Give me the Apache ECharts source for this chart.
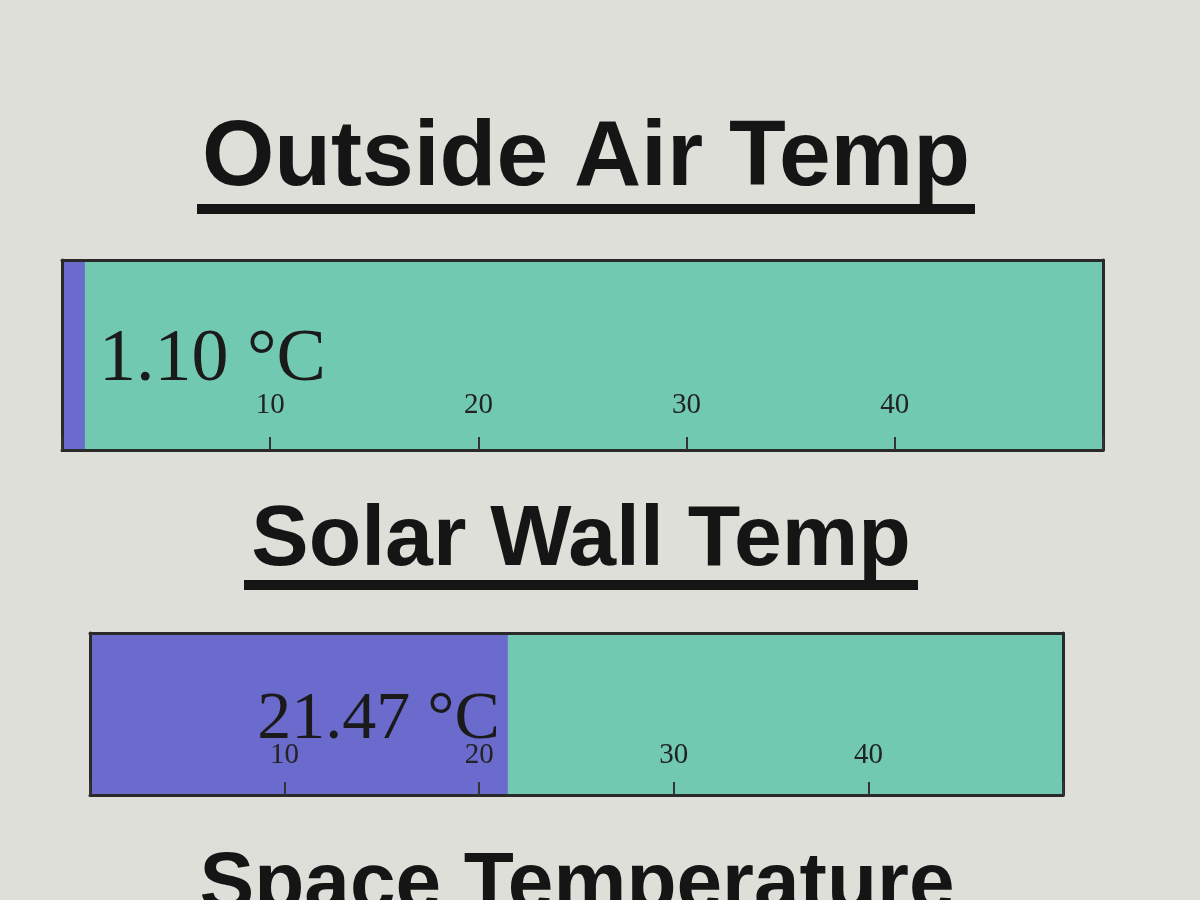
<!DOCTYPE html>
<html>
<head>
<meta charset="utf-8">
<script src="https://cdn.jsdelivr.net/npm/echarts@6/dist/echarts.min.js"></script>
<style>
html,body{margin:0;padding:0;background:#dfdfd9;}
#chart{width:1200px;height:900px;}
</style>
</head>
<body>
<div id="chart"></div>
<script>
// ---- data ----
var gaugeTitles = ['Outside Air Temp', 'Solar Wall Temp', 'Space Temperature'];
var gaugeValues = [1.10, 21.47];
var gaugeUnit = '°C';
var scaleMin = 0;
var scaleMax = 50;
var scaleStep = 10;
var tickLabels = [10, 20, 30, 40];

// ---- layout / style (not data) ----
var gridBoxes = [
  {left: 62, top: 260, width: 1041, height: 190, labelSize: 74, labelDy: 6, tickSize: 29, tickMargin: 30},
  {left: 90, top: 633, width: 973, height: 162, labelSize: 68, labelDy: 6, tickSize: 29, tickMargin: 25}
];
var titleBoxes = [
  {x: 586, y: 159, size: 93, ulX: 197, ulY: 204, ulW: 778},
  {x: 581, y: 541, size: 86, ulX: 244, ulY: 580, ulW: 674},
  {x: 577, y: 886, size: 82}
];
var trackColor = '#70c9b0';
var fillColor = '#6a6bcc';
var inkColor = '#1a1a1a';
var frameLine = {show: true, onZero: false, lineStyle: {color: '#2a2a2a', width: 3}};

var chart = echarts.init(document.getElementById('chart'));

var grids = [], xAxes = [], yAxes = [], series = [];
gaugeValues.forEach(function (v, i) {
  var g = gridBoxes[i];
  grids.push({
    left: g.left, top: g.top, width: g.width, height: g.height,
    show: true, backgroundColor: trackColor, borderWidth: 0
  });
  // bottom axis: frame line, ticks and labels
  xAxes.push({
    type: 'value', gridIndex: i, position: 'bottom', z: 5,
    min: scaleMin, max: scaleMax, interval: scaleStep,
    axisLine: frameLine,
    splitLine: {show: false},
    axisTick: {show: true, inside: true, length: 13, lineStyle: {color: '#333', width: 2}},
    axisLabel: {
      show: true, inside: true, margin: g.tickMargin,
      fontFamily: 'Liberation Serif', fontSize: g.tickSize, color: '#222',
      formatter: function (val) { return tickLabels.indexOf(val) >= 0 ? String(val) : ''; }
    }
  });
  // top axis: frame line only
  xAxes.push({
    type: 'value', gridIndex: i, position: 'top', z: 5,
    min: scaleMin, max: scaleMax, interval: scaleStep,
    axisLine: frameLine, axisTick: {show: false}, axisLabel: {show: false}, splitLine: {show: false}
  });
  yAxes.push({
    type: 'category', gridIndex: i, position: 'left', z: 5, data: [gaugeTitles[i]],
    axisLine: frameLine, axisTick: {show: false}, axisLabel: {show: false}
  });
  yAxes.push({
    type: 'category', gridIndex: i, position: 'right', z: 5, data: [gaugeTitles[i]],
    axisLine: frameLine, axisTick: {show: false}, axisLabel: {show: false}
  });
  series.push({
    type: 'bar', xAxisIndex: i * 2, yAxisIndex: i * 2,
    data: [v], barWidth: '100%', z: 2,
    itemStyle: {color: fillColor},
    silent: true,
    label: {
      show: true,
      position: v < scaleStep / 2 ? 'right' : 'insideRight',
      distance: v < scaleStep / 2 ? 14 : 8,
      offset: [0, g.labelDy],
      fontFamily: 'Liberation Serif', fontSize: g.labelSize, color: inkColor,
      formatter: function (p) { return p.value.toFixed(2) + ' ' + gaugeUnit; }
    }
  });
});

var graphics = [];
gaugeTitles.forEach(function (t, i) {
  var b = titleBoxes[i];
  graphics.push({
    type: 'text', x: b.x, y: b.y, z: 10,
    style: {
      text: t, fill: '#151515',
      font: 'bold ' + b.size + 'px "Liberation Sans", Arial, sans-serif',
      align: 'center', verticalAlign: 'middle'
    }
  });
  if (b.ulW) {
    graphics.push({
      type: 'rect', z: 10,
      shape: {x: b.ulX, y: b.ulY, width: b.ulW, height: 10},
      style: {fill: '#151515'}
    });
  }
});

chart.setOption({
  backgroundColor: '#dfdfd9',
  animation: false,
  grid: grids,
  xAxis: xAxes,
  yAxis: yAxes,
  series: series,
  graphic: graphics
});
</script>
</body>
</html>
